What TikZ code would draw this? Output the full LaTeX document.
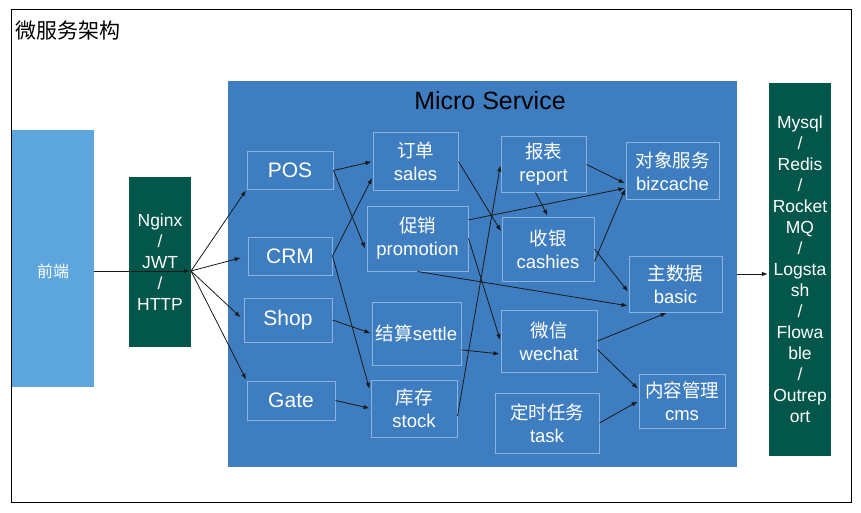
\documentclass[tikz,border=0pt]{standalone}
\usepackage{fontspec}
\setmainfont{Liberation Sans}
\newfontfamily\cjk{Noto Sans CJK SC}
\usetikzlibrary{arrows.meta}
\definecolor{msblue}{HTML}{3E7EC0}
\definecolor{feblue}{HTML}{5DA6DD}
\definecolor{dbgreen}{HTML}{03574A}
\definecolor{boxline}{HTML}{8CB4E1}
\begin{document}
\begin{tikzpicture}[x=1pt,y=-1pt,>={Latex[length=6pt,width=4.5pt]},
  link/.style={->,line width=0.8pt,draw=black!90,shorten >=1pt},
  svc/.style={draw=boxline,line width=1pt,text=white,align=center,inner sep=0pt,
    font=\fontsize{18.5}{23}\selectfont},
  gw/.style={svc,font=\fontsize{21}{24}\selectfont},
  col/.style={fill=dbgreen,text=white,align=center,inner sep=0pt,
    font=\fontsize{17.5}{21}\selectfont}]
\useasboundingbox (0,0) rectangle (861,513);
\draw[line width=1pt] (11,10) rectangle (851,502);
\node[anchor=west,font=\cjk\fontsize{21}{24}\selectfont] (title) at (12,31) {微服务架构};
% left side
\node[fill=feblue,minimum width=82pt,minimum height=257pt,inner sep=0pt,text=white,
  font=\cjk\fontsize{16}{18}\selectfont,text height=38pt,text depth=0pt] (fe) at (53,258.5) {前端};
\node[col,minimum width=62pt,minimum height=170pt] (nginx) at (160,262) {Nginx\\/\\JWT\\/\\HTTP};
% micro service
\node[fill=msblue,minimum width=509pt,minimum height=386pt,inner sep=0pt] (ms) at (482.5,274) {};
\node[font=\fontsize{25}{28}\selectfont] (mstitle) at (490,101) {Micro Service};
\node[gw,minimum width=86pt,minimum height=37pt] (pos) at (290,170.5) {POS};
\node[gw,minimum width=84pt,minimum height=38pt] (crm) at (290,256) {CRM};
\node[gw,minimum width=88pt,minimum height=44pt] (shop) at (288,320) {Shop};
\node[gw,minimum width=88pt,minimum height=39pt] (gate) at (291,400.5) {Gate};
\node[svc,minimum width=85pt,minimum height=57pt] (sales) at (415.5,161.5) {{\cjk 订单}\\sales};
\node[svc,minimum width=101pt,minimum height=65pt] (promo) at (417.5,238.5) {{\cjk 促销}\\promotion};
\node[svc,minimum width=89pt,minimum height=63pt] (settle) at (416.5,333.5) {{\cjk 结算}settle};
\node[svc,minimum width=86pt,minimum height=57pt] (stock) at (414,408.5) {{\cjk 库存}\\stock};
\node[svc,minimum width=85pt,minimum height=55pt] (report) at (543.5,164.5) {{\cjk 报表}\\report};
\node[svc,minimum width=92pt,minimum height=64pt] (cashies) at (548,249) {{\cjk 收银}\\cashies};
\node[svc,minimum width=96pt,minimum height=62pt] (wechat) at (549,341) {{\cjk 微信}\\wechat};
\node[svc,minimum width=104pt,minimum height=60pt] (task) at (547,423) {{\cjk 定时任务}\\task};
\node[svc,minimum width=93pt,minimum height=56pt] (bizcache) at (672.5,171) {{\cjk 对象服务}\\bizcache};
\node[svc,minimum width=93pt,minimum height=56pt] (basic) at (675.5,284) {{\cjk 主数据}\\basic};
\node[svc,minimum width=86pt,minimum height=54pt] (cms) at (682,401) {{\cjk 内容管理}\\cms};
% storage
\node[col,minimum width=62pt,minimum height=373pt] (db) at (800,269.5)
  {Mysql\\/\\Redis\\/\\Rocket\\MQ\\/\\Logsta\\sh\\/\\Flowa\\ble\\/\\Outrep\\ort};
% arrows
\coordinate (hub) at (191,271);
\draw[link] (fe.east |- hub) -- (hub);
\draw[link] (hub) -- (pos.south west);
\draw[link,shorten >=7pt] (hub) -- (crm.west);
\draw[link,shorten >=4pt] (hub) -- (shop.west);
\draw[link] (hub) -- (gate.north west);
\draw[link] (pos.east) -- (sales.west);
\draw[link,shorten >=4pt] (pos.east) -- (promo.195);
\draw[link] (crm.east) -- (sales.200);
\draw[link,shorten >=4pt] (crm.east) -- (stock.160);
\draw[link] (shop.east) -- (settle.west);
\draw[link] (gate.east) -- (stock.west);
\draw[link] (sales.east) -- (cashies.160);
\draw[link] (promo.20) -- (bizcache.200);
\draw[link] (promo.east) -- (wechat.west);
\draw[link] (promo.south) -- (basic.205);
\draw[link] (stock.350) -- (report.west);
\draw[link] (settle.340) -- (wechat.195);
\draw[link] (report.east) -- (bizcache.195);
\draw[link] ([xshift=-8pt]report.south) -- (cashies.north);
\draw[link] (cashies.345) -- (bizcache.200);
\draw[link] (cashies.east) -- (basic.190);
\draw[link] (wechat.east) -- ([xshift=-8pt]basic.south);
\draw[link] (wechat.350) -- (cms.165);
\draw[link] (task.east) -- (cms.west);
\draw[link] (ms.east) -- (ms.east -| db.west);
\end{tikzpicture}
\end{document}
